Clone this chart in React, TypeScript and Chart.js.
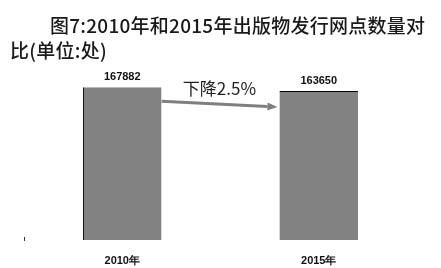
import React, { useEffect, useRef } from "react";
import { Chart, registerables } from "chart.js";

Chart.register(...registerables);

const categories = ["2010年", "2015年"];
const outlets = [167882, 163650];
const changeLabel = "下降2.5%";
const titleLine1 = "图7:2010年和2015年出版物发行网点数量对";
const titleLine2 = "比(单位:处)";

const BAR_COLOR = "#828282";

// Value labels above bars plus the grey arrow between them.
const annotatePlugin = {
  id: "annotate",
  afterDatasetsDraw(chart: any) {
    const ctx = chart.ctx;
    const meta = chart.getDatasetMeta(0);
    const bars = meta.data as any[];
    ctx.save();
    ctx.fillStyle = "#111";
    ctx.font = "bold 11px 'Liberation Sans', Arial, sans-serif";
    ctx.textAlign = "center";
    ctx.textBaseline = "middle";
    bars.forEach((bar, i) => {
      ctx.fillText(String(outlets[i]), bar.x, bar.y - 10);
    });

    const b1 = bars[0];
    const b2 = bars[1];
    const x1 = b1.x + b1.width / 2;
    const y1 = b1.y + 14;
    const x2 = b2.x - b2.width / 2 - 2;
    const y2 = b2.y + 16;
    const ang = Math.atan2(y2 - y1, x2 - x1);
    const headLen = 10;
    const headHalf = 4;
    const bx = x2 - headLen * Math.cos(ang);
    const by = y2 - headLen * Math.sin(ang);
    ctx.strokeStyle = "#7f7f7f";
    ctx.fillStyle = "#7f7f7f";
    ctx.lineWidth = 3;
    ctx.beginPath();
    ctx.moveTo(x1, y1);
    ctx.lineTo(bx, by);
    ctx.stroke();
    ctx.beginPath();
    ctx.moveTo(x2, y2);
    ctx.lineTo(bx - headHalf * Math.sin(ang), by + headHalf * Math.cos(ang));
    ctx.lineTo(bx + headHalf * Math.sin(ang), by - headHalf * Math.cos(ang));
    ctx.closePath();
    ctx.fill();

    ctx.fillStyle = "#222";
    ctx.font = "17px 'Noto Sans CJK SC', sans-serif";
    ctx.fillText(changeLabel, (x1 + x2) / 2, y1 - 13);

    // small mark at the left end of the baseline
    const area = chart.chartArea;
    ctx.strokeStyle = "#333";
    ctx.lineWidth = 1;
    ctx.beginPath();
    ctx.moveTo(area.left + 0.5, area.bottom - 3);
    ctx.lineTo(area.left + 0.5, area.bottom + 1);
    ctx.stroke();
    ctx.restore();
  },
};

export default function App() {
  const canvasRef = useRef<HTMLCanvasElement | null>(null);

  useEffect(() => {
    if (!canvasRef.current) return;
    const chart = new Chart(canvasRef.current, {
      type: "bar",
      data: {
        labels: categories,
        datasets: [
          {
            data: outlets,
            backgroundColor: BAR_COLOR,
            borderColor: "#000",
            borderWidth: [
              { left: 1, top: 0, right: 0, bottom: 0 },
              { left: 0, top: 1, right: 0, bottom: 0 },
            ] as any,
            borderSkipped: false,
            barPercentage: 0.4,
            categoryPercentage: 1,
          },
        ],
      },
      options: {
        animation: false,
        responsive: false,
        devicePixelRatio: 1,
        layout: { padding: { left: 24, right: 24, top: 58, bottom: 0 } },
        plugins: {
          legend: { display: false },
          title: { display: false },
          tooltip: { enabled: false },
        },
        scales: {
          x: {
            grid: { display: false, drawTicks: false },
            border: { display: false },
            ticks: {
              color: "#111",
              padding: 14,
              font: { size: 11, family: "'Liberation Sans', Arial, sans-serif", weight: "bold" },
            },
            afterFit: (s: any) => {
              s.height = 28;
            },
          },
          y: {
            display: false,
            min: 0,
            max: 200000,
          },
        },
      },
      plugins: [annotatePlugin],
    });
    return () => chart.destroy();
  }, []);

  return (
    <div style={{ position: "absolute", left: 0, top: 0, width: 441, height: 268, background: "#fff" }}>
      <canvas ref={canvasRef} width={441} height={268} style={{ position: "absolute", left: 0, top: 0 }} />
      <div
        style={{
          position: "absolute",
          left: 10,
          top: 12,
          width: 430,
          fontFamily: "'Noto Sans CJK SC', sans-serif",
          fontSize: 19,
          fontWeight: 500,
          lineHeight: "25px",
          letterSpacing: "0.25px",
          color: "#1a1a1a",
          textIndent: 40,
          whiteSpace: "nowrap",
        }}
      >
        {titleLine1}
        <br />
        {titleLine2}
      </div>
    </div>
  );
}
